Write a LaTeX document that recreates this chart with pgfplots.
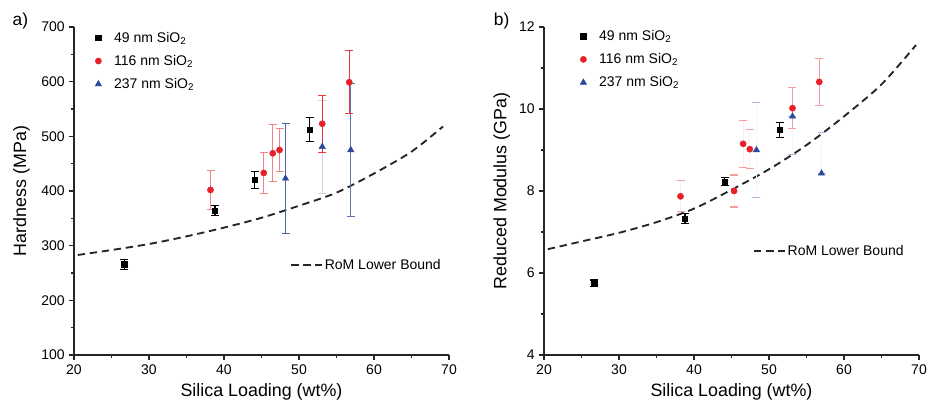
\documentclass[border=0pt]{standalone}
\usepackage{fontspec}
\setmainfont{Liberation Sans}
\usepackage{pgfplots}
\pgfplotsset{compat=1.18}

\definecolor{mkred}{RGB}{232,32,40}
\definecolor{mkblue}{RGB}{46,72,158}
\newcommand{\labfont}{\fontsize{13.4}{16}\selectfont}

\pgfplotsset{
  base/.style={
    scale only axis, width=281.25pt, height=246pt,
    xmin=20, xmax=70, clip=false,
    at={(0,0)}, anchor=south west,
  },
  frame/.style={
    axis x line*=bottom, axis y line*=left,
    tick align=outside,
    xtick={20,30,...,70},
    minor x tick num=1, minor y tick num=1,
    major tick length=3.5pt, minor tick length=2pt,
    axis line style={line width=0.9pt, black!85},
    every tick/.style={line width=0.9pt, black!85},
    tick label style={font=\fontsize{10.5}{12}\selectfont},
    /pgf/number format/assume math mode=true,
    every axis x label/.style={at={(axis description cs:0.5,-0.111)}, anchor=center, font=\labfont},
    xlabel={Silica Loading (wt\%)},
    legend style={draw=none, fill=none, inner sep=0pt,
      font=\fontsize{10.5}{12}\selectfont, row sep=5.2pt, column sep=8pt,
      nodes={inner sep=1.5pt}},
    legend cell align=left,
  },
  romleg/.style={
    legend style={draw=none, fill=none, inner sep=0pt, anchor=west,
      font=\fontsize{10.5}{12}\selectfont, nodes={inner sep=1.5pt}},
    legend image code/.code={\draw[##1] (0pt,0pt) -- (23pt,0pt);},
  },
  romline/.style={black!85, line width=1.4pt, dash pattern=on 5.5pt off 3.6pt, smooth},
  sq/.style={only marks, mark=square*, mark size=2pt, mark options={black, fill=black}},
  ci/.style={only marks, mark=*, mark size=2.3pt, mark options={draw=mkred, fill=mkred}},
  tr/.style={only marks, mark=triangle*, mark size=2.7pt, mark options={draw=mkblue, fill=mkblue}},
  eb/.style 2 args={
    error bars/y dir=both, error bars/y explicit,
    error bars/error bar style={line width=0.8pt, #1},
    error bars/error mark options={rotate=90, mark size=3pt, line width=0.8pt, #2}},
}

\begin{document}
\begin{tikzpicture}
\path[use as bounding box] (-55.5pt,-40.5pt) rectangle (645pt,266.25pt);

% ---------- a) hardness ----------
\begin{axis}[base, ymin=100, ymax=700, hide axis, romleg,
  legend style={at={(axis description cs:0.576,0.274)}}]
\addplot[romline] coordinates {
  (20.5,283) (25,292) (30,303) (35,317) (40,333) (45,351)
  (50,373) (55,397) (60,432) (65,472) (69.2,518)};
\addlegendentry{RoM Lower Bound}
\end{axis}

\begin{axis}[base, frame, ymin=100, ymax=700, ytick={100,200,...,700},
  ylabel={Hardness (MPa)},
  every axis y label/.style={at={(axis description cs:-0.14,0.5)}, rotate=90, anchor=center, font=\labfont},
  legend style={at={(axis description cs:0.056,0.992)}, anchor=north west}]
\addplot[sq, eb={black}{black}] coordinates {
  (26.7,266) +- (0,9)  (38.8,364) +- (0,9)
  (44.1,420) +- (0,16) (51.4,512) +- (0,22)};
\addlegendentry{49 nm SiO\textsubscript{2}}
\addplot[ci, eb={mkred!55}{mkred!55}] coordinates {
  (38.2,402) +- (0,36) (45.3,433) +- (0,38)
  (46.5,469) +- (0,52) (47.4,475) +- (0,40)};
\addlegendentry{116 nm SiO\textsubscript{2}}
\addplot[tr, eb={mkblue!85}{mkblue!85}] coordinates {(48.2,423) +- (0,100)};
\addlegendentry{237 nm SiO\textsubscript{2}}
\addplot[forget plot, tr, eb={mkblue!25}{mkblue!25}] coordinates {(53.1,481) +- (0,85)};
\addplot[forget plot, tr, eb={mkblue!75}{mkblue!75}] coordinates {(56.9,475) +- (0,122)};
\addplot[forget plot, ci, eb={mkred!90}{mkred!90}] coordinates {
  (53.1,523) +- (0,52) (56.7,599) +- (0,58)};
\node[font=\fontsize{13}{15}\selectfont] at (axis description cs:-0.143,1.018) {a)};
\end{axis}

% ---------- b) reduced modulus ----------
\begin{scope}[xshift=352.5pt]
\begin{axis}[base, ymin=4, ymax=12, hide axis, romleg,
  legend style={at={(axis description cs:0.557,0.317)}}]
\addplot[romline] coordinates {
  (20.5,6.58) (25,6.77) (30,6.98) (35,7.24) (40,7.57) (45,8.03)
  (50,8.53) (55,9.12) (60,9.82) (65,10.6) (69.6,11.56)};
\addlegendentry{RoM Lower Bound}
\end{axis}

\begin{axis}[base, frame, ymin=4, ymax=12, ytick={4,6,...,12},
  ylabel={Reduced Modulus (GPa)},
  every axis y label/.style={at={(axis description cs:-0.113,0.5)}, rotate=90, anchor=center, font=\labfont},
  legend style={at={(axis description cs:0.096,0.997)}, anchor=north west}]
\addplot[sq, eb={black}{black}] coordinates {
  (26.7,5.75) +- (0,0.08) (38.8,7.32) +- (0,0.12)
  (44.1,8.23) +- (0,0.1)  (51.4,9.49) +- (0,0.19)};
\addlegendentry{49 nm SiO\textsubscript{2}}
\addplot[ci, eb={mkred!8}{mkred!45}] coordinates {
  (38.2,7.87) +- (0,0.38) (45.35,8.0) +- (0,0.39)
  (46.55,9.15) +- (0,0.58) (47.44,9.02) +- (0,0.48)};
\addlegendentry{116 nm SiO\textsubscript{2}}
\addplot[tr, eb={mkblue!6}{mkblue!40}] coordinates {(48.33,9.0) +- (0,1.16)};
\addlegendentry{237 nm SiO\textsubscript{2}}
\addplot[forget plot, tr, eb={mkblue!6}{mkblue!40}] coordinates {
  (53.13,9.82) += (0,0) -= (0,0.94)
  (57.0,8.43) += (0,1.0) -= (0,0)};
\addplot[forget plot, ci, eb={mkred!45}{mkred!45}] coordinates {
  (53.13,10.02) +- (0,0.5) (56.7,10.66) +- (0,0.57)};
\node[font=\fontsize{13}{15}\selectfont] at (axis description cs:-0.113,1.018) {b)};
\end{axis}
\end{scope}
\end{tikzpicture}
\end{document}
